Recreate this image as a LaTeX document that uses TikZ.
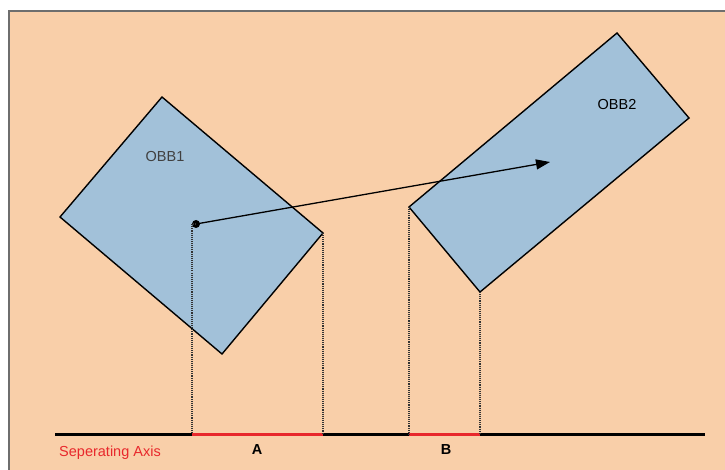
\documentclass[tikz,border=0pt]{standalone}
\usepackage{fontspec}
\setmainfont{Liberation Sans}
\usetikzlibrary{arrows.meta, calc}
\definecolor{cPeach}{RGB}{249,207,169}
\definecolor{cBox}{RGB}{162,193,217}
\definecolor{cRed}{RGB}{232,40,44}
\definecolor{cFrame}{RGB}{110,110,110}
\tikzset{
	obb/.style={draw=black, fill=cBox, line width=1.4pt, line join=miter},
	proj/.style={densely dotted, line width=1.1pt, draw=black!80},
	axisline/.style={line width=3pt},
	interval/.style={draw=cRed, line width=3pt},
	lbl/.style={font=\fontsize{14.5}{17}\selectfont, inner sep=0pt},
}

\begin{document}
\begin{tikzpicture}[x=1pt, y=-1pt]
	\useasboundingbox (0,0) rectangle (725,470);
	\fill[cPeach] (9,11) rectangle (725,470);
	\draw[cFrame, line width=1.5pt] (9,470) -- (9,11) -- (725,11);
	% corners of the boxes
	\coordinate (a1) at (162,97);
	\coordinate (a2) at (323,233);
	\coordinate (a3) at (222,354);
	\coordinate (a4) at (60,217);
	\coordinate (b1) at (617,33);
	\coordinate (b2) at (689,118);
	\coordinate (b3) at (480,292);
	\coordinate (b4) at (409,207);
	\draw[obb] (a1) -- (a2) -- (a3) -- (a4) -- cycle;
	\draw[obb] (b1) -- (b2) -- (b3) -- (b4) -- cycle;
	\node[lbl, text=black!75] (obb1) at (165,157) {OBB1};
	\node[lbl] (obb2) at (617,105) {OBB2};
	% separating axis
	\coordinate (ax0) at (55,434);
	\coordinate (ax1) at (705,434);
	\coordinate (pc) at (192,434);
	\coordinate (pa) at (323,434);
	\coordinate (pb) at (409,434);
	\coordinate (pd) at (480,434);
	\draw[axisline] (ax0) -- (ax1);
	\draw[interval] (pc) -- (pa);
	\draw[interval] (pb) -- (pd);
	% centre and direction
	\node[circle, fill=black, inner sep=0pt, minimum size=8pt] (c1) at (196,224) {};
	\coordinate (tip) at (550,162);
	\draw[line width=1.3pt, -{Triangle[length=14pt, width=10pt]}] (c1.center) -- (tip);
	% projections
	\draw[proj] (c1.center) -| (pc);
	\draw[proj] (a2) -- (pa);
	\draw[proj] (b4) -- (pb);
	\draw[proj] (b3) -- (pd);
	\node[lbl, font=\bfseries\fontsize{14.5}{17}\selectfont] (lA) at (257,450) {A};
	\node[lbl, font=\bfseries\fontsize{14.5}{17}\selectfont] (lB) at (446,450) {B};
	\node[lbl, text=cRed] (axis) at (110,453) {Seperating Axis};
\end{tikzpicture}
\end{document}
